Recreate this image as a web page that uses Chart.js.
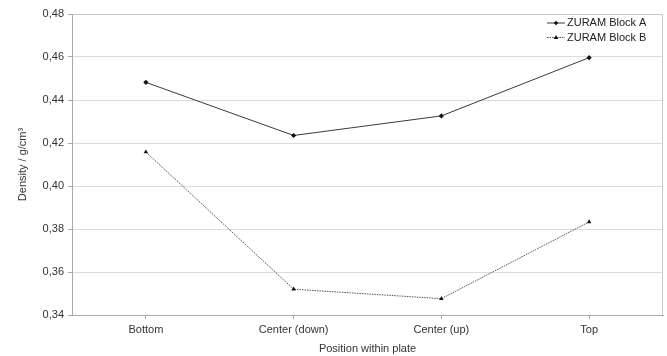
<!DOCTYPE html>
<html>
<head>
<meta charset="utf-8">
<script src="https://cdn.jsdelivr.net/npm/chart.js@4/dist/chart.umd.min.js"></script>
<style>
  html, body { margin: 0; padding: 0; background: #fff; }
  #wrap { width: 667px; height: 356px; }
</style>
</head>
<body>
<div id="wrap"><canvas id="densityChart" width="667" height="356"></canvas></div>
<script>
// chart values
var positions = ["Bottom", "Center (down)", "Center (up)", "Top"];
var blockA = [0.4482, 0.4235, 0.4326, 0.4597];
var blockB = [0.4158, 0.3520, 0.3476, 0.3833];
var seriesNames = ["ZURAM Block A", "ZURAM Block B"];
var yTicks = [0.34, 0.36, 0.38, 0.40, 0.42, 0.44, 0.46, 0.48];

var fontName = "'Liberation Sans', Arial, sans-serif";

// draws the box round the plot and the legend in the top right corner
var boxAndLegend = {
  id: 'boxAndLegend',
  afterDraw: function (chart) {
    var ctx = chart.ctx;
    var area = chart.chartArea;
    ctx.save();
    ctx.strokeStyle = '#c8c8c8';
    ctx.lineWidth = 1;
    ctx.beginPath();
    ctx.moveTo(area.left, area.top + 0.5);
    ctx.lineTo(area.right - 0.5, area.top + 0.5);
    ctx.lineTo(area.right - 0.5, area.bottom);
    ctx.stroke();

    var x0 = 547, x1 = 565;
    chart.data.datasets.forEach(function (ds, i) {
      var y = 23 + i * 14.5;
      ctx.strokeStyle = ds.borderColor;
      ctx.lineWidth = 1;
      ctx.setLineDash(ds.borderDash || []);
      ctx.beginPath();
      ctx.moveTo(x0, y);
      ctx.lineTo(x1, y);
      ctx.stroke();
      ctx.setLineDash([]);
      ctx.fillStyle = '#111';
      var mx = (x0 + x1) / 2;
      ctx.beginPath();
      if (ds.pointStyle === 'triangle') {
        ctx.moveTo(mx, y - 2.5);
        ctx.lineTo(mx + 2.3, y + 1.6);
        ctx.lineTo(mx - 2.3, y + 1.6);
      } else {
        ctx.moveTo(mx, y - 2.3);
        ctx.lineTo(mx + 2.3, y);
        ctx.lineTo(mx, y + 2.3);
        ctx.lineTo(mx - 2.3, y);
      }
      ctx.closePath();
      ctx.fill();
      ctx.fillStyle = '#222';
      ctx.font = '11px ' + fontName;
      ctx.textBaseline = 'middle';
      ctx.textAlign = 'left';
      ctx.fillText(ds.label, x1 + 2, y);
    });
    ctx.restore();
  }
};

var ctx = document.getElementById("densityChart");
var densityChart = new Chart(ctx, {
  type: 'line',
  data: {
    labels: positions,
    datasets: [{
      label: seriesNames[0],
      data: blockA,
      borderColor: '#3a3a3a',
      borderWidth: 1,
      pointStyle: 'rectRot',
      pointRadius: 2.6,
      pointBackgroundColor: '#111',
      pointBorderWidth: 0,
      tension: 0
    }, {
      label: seriesNames[1],
      data: blockB,
      borderColor: '#555',
      borderWidth: 1,
      borderDash: [1.5, 1],
      pointStyle: 'triangle',
      pointRadius: 2.6,
      pointBackgroundColor: '#111',
      pointBorderWidth: 0,
      tension: 0
    }]
  },
  options: {
    responsive: false,
    animation: false,
    devicePixelRatio: 1,
    layout: { padding: { left: 0, right: 3, top: 14, bottom: 0 } },
    plugins: {
      legend: { display: false },
      tooltip: { enabled: false }
    },
    scales: {
      x: {
        offset: true,
        grid: {
          offset: false,
          drawOnChartArea: false,
          drawTicks: true,
          tickLength: 4,
          color: '#a8a8a8'
        },
        border: { color: '#a8a8a8' },
        ticks: {
          color: '#333',
          padding: 4,
          font: { family: fontName, size: 11 }
        },
        title: {
          display: true,
          text: 'Position within plate',
          color: '#333',
          padding: { top: 2, bottom: 0 },
          font: { family: fontName, size: 11 }
        },
        afterFit: function (scale) { scale.height = 41; }
      },
      y: {
        min: yTicks[0],
        max: yTicks[yTicks.length - 1],
        afterBuildTicks: function (scale) {
          scale.ticks = yTicks.map(function (v) { return { value: v }; });
        },
        grid: {
          color: '#dcdcdc',
          tickColor: '#a8a8a8',
          tickLength: 4
        },
        border: { color: '#a8a8a8' },
        ticks: {
          color: '#333',
          padding: 4,
          font: { family: fontName, size: 11 }
          ,
          callback: function (v) { return v.toFixed(2).replace('.', ','); }
        },
        title: {
          display: true,
          text: 'Density / g/cm³',
          color: '#333',
          padding: { top: 16, bottom: 0 },
          font: { family: fontName, size: 11 }
        },
        afterFit: function (scale) { scale.width = 72; }
      }
    }
  },
  plugins: [boxAndLegend]
});
</script>
</body>
</html>
